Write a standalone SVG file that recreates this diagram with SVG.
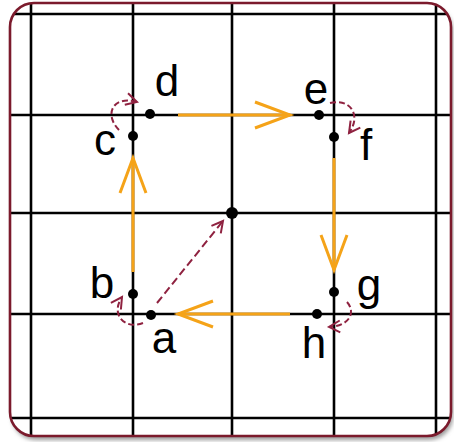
<svg xmlns="http://www.w3.org/2000/svg" width="454" height="442" viewBox="0 0 454 442">
<style>
.grid{stroke:#000;stroke-width:2.6;fill:none}
.frame{fill:none;stroke:#7b1a2c;stroke-width:2.6}
.dot{fill:#000}
.lbl{font-family:"Liberation Sans",Arial,sans-serif;font-size:44px;fill:#000;text-anchor:middle}
.move{stroke:#f5a318;stroke-width:3;fill:none}
.step{stroke:#8f2240;stroke-width:2;fill:none;stroke-dasharray:6 3}
.diag{stroke-dasharray:8 4}
</style>
<defs>
<clipPath id="clip"><rect x="10" y="3" width="441" height="433" rx="24"/></clipPath>
<filter id="sh" x="-5%" y="-5%" width="110%" height="115%"><feGaussianBlur stdDeviation="2"/></filter>
<marker id="oa" viewBox="0 0 36 26" refX="35" refY="13" markerWidth="36" markerHeight="26" markerUnits="userSpaceOnUse" orient="auto" overflow="visible">
<path d="M0,0 L35,13 L0,26" fill="none" stroke="#f5a318" stroke-width="3"/>
</marker>
<marker id="ma" viewBox="0 0 12 12" refX="11" refY="6" markerWidth="12" markerHeight="12" markerUnits="userSpaceOnUse" orient="auto" overflow="visible">
<path d="M0,0 L11,6 L0,12" fill="none" stroke="#8f2240" stroke-width="2"/>
</marker>
</defs>
<rect x="12" y="7" width="441" height="433" rx="24" fill="#999" filter="url(#sh)"/>
<rect x="10" y="3" width="441" height="433" rx="24" fill="#fff"/>
<g id="grid" clip-path="url(#clip)">
<path class="grid" d="M31,0V442M133,0V442M232,0V442M334,0V442M436,0V442"/>
<path class="grid" d="M0,14H454M0,115H454M0,213H454M0,314H454M0,418H454"/>
</g>
<rect class="frame" x="10" y="3" width="441" height="433" rx="24"/>
<g id="connectors">
<path class="move" d="M178,115 H290" marker-end="url(#oa)"/>
<path class="move" d="M334,158 V270" marker-end="url(#oa)"/>
<path class="move" d="M290,314 H178" marker-end="url(#oa)"/>
<path class="move" d="M133,272 V158" marker-end="url(#oa)"/>
<path class="step diag" d="M157,303 L223,221" marker-end="url(#ma)"/>
<path class="step" d="M119,130 C104,115 112,95 137,102" marker-end="url(#ma)"/>
<path class="step" d="M330,103 C350,98 362,115 349,133" marker-end="url(#ma)"/>
<path class="step" d="M347,302 C356,312 350,326 329,327" marker-end="url(#ma)"/>
<path class="step" d="M143,323 C125,330 110,315 122,297" marker-end="url(#ma)"/>
</g>
<g id="node-a"><circle class="dot" cx="151" cy="315" r="5"/><text class="lbl" x="164" y="353">a</text></g>
<g id="node-b"><circle class="dot" cx="133" cy="294" r="5"/><text class="lbl" x="102" y="298">b</text></g>
<g id="node-c"><circle class="dot" cx="133" cy="136" r="5"/><text class="lbl" x="105" y="155">c</text></g>
<g id="node-d"><circle class="dot" cx="150" cy="114" r="5"/><text class="lbl" x="167" y="96">d</text></g>
<g id="node-e"><circle class="dot" cx="319" cy="115" r="5"/><text class="lbl" x="316" y="104">e</text></g>
<g id="node-f"><circle class="dot" cx="334" cy="137" r="5"/><text class="lbl" x="366" y="160">f</text></g>
<g id="node-g"><circle class="dot" cx="334" cy="292" r="5"/><text class="lbl" x="369" y="300">g</text></g>
<g id="node-h"><circle class="dot" cx="317" cy="314" r="5"/><text class="lbl" x="314" y="358">h</text></g>
<g id="node-center"><circle class="dot" cx="232" cy="213" r="6"/></g>
</svg>
